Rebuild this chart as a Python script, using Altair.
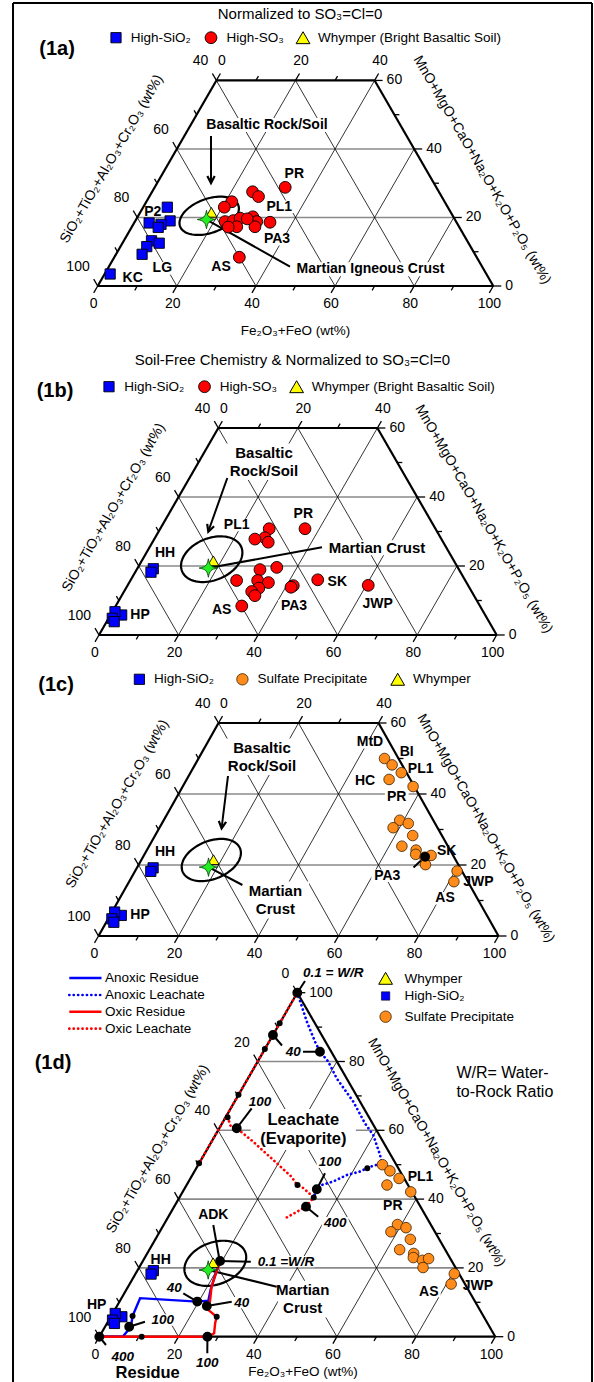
import altair as alt
import numpy as np
import pandas as pd

FONT = "Liberation Sans"
W, H = 594, 1382

# ---------------------------------------------------------------------------
# Compositions (wt%): fe = Fe2O3+FeO, mg = MnO+MgO+CaO+Na2O+K2O+P2O5,
# the SiO2+TiO2+Al2O3+Cr2O3 group is the remainder to 100.
# ---------------------------------------------------------------------------
SIO2_1A_FE = [6.1, 8.8, 3.8, 7.0, 6.75, 7.0, 9.3, 6.65, 6.6, 1.4]
SIO2_1A_MG = [23.0, 19.0, 18.4, 18.0, 17.1, 13.2, 12.5, 11.5, 9.25, 3.5]

SO3_1A_FE = [33.0, 25.4, 27.6, 21.6, 20.5, 22.8, 24.75, 26.1, 26.5, 24.4, 29.1, 30.8, 31.1, 34.25, 28.0, 31.6]
SO3_1A_MG = [28.8, 27.5, 26.1, 24.6, 23.0, 18.8, 19.1, 19.8, 17.3, 17.2, 20.2, 18.8, 17.3, 18.6, 19.6, 8.4]

SIO2_SF_FE = [4.05, 3.97, 2.8, 0.65, 0.92, 1.9]
SIO2_SF_MG = [19.2, 18.2, 5.8, 6.75, 4.84, 3.86]

SO3_1B_FE = [36.4, 27.4, 27.6, 25.3, 29.1, 34.9, 31.0, 26.7, 32.0, 35.0, 33.4, 32.1, 33.5, 31.7, 41.7, 41.35, 47.0, 60.5]
SO3_1B_MG = [30.8, 30.8, 28.2, 27.8, 26.9, 19.6, 18.95, 15.8, 15.8, 15.2, 13.6, 12.6, 11.4, 8.4, 14.3, 13.85, 16.0, 14.4]

SULFATE_FE = [46.5, 49.3, 52.7, 50.6, 57.6, 59.0, 58.4, 61.6, 64.4, 63.2, 67.3, 67.8, 70.5, 71.8, 71.7, 80.5, 81.2]
SULFATE_MG = [50.0, 48.2, 46.0, 44.1, 42.1, 32.6, 30.5, 31.7, 28.3, 25.3, 24.2, 23.0, 22.2, 22.7, 20.1, 18.3, 15.3]

WHYMPER = (18.0, 21.5)
MARTIAN_CRUST = (17.8, 19.4)
SK_MARK = (70.5, 22.3)

# Water-rock reaction model paths (panel 1d)
ANOXIC_RESIDUE_FE = [19.5, 20.3, 21.3, 22.3, 19.65, 4.7, 5.4, 6.55, 5.9, 0.0]
ANOXIC_RESIDUE_MG = [22.0, 17.9, 13.6, 10.5, 10.2, 11.2, 6.0, 2.9, 0.0, 0.0]
OXIC_RESIDUE_FE = [19.5, 21.1, 22.85, 22.7, 23.6, 26.75, 27.3, 28.5, 27.3, 10.7, 0.0]
OXIC_RESIDUE_MG = [22.0, 14.5, 10.2, 8.9, 7.8, 5.8, 3.9, 1.0, 0.0, 0.0, 0.0]
ANOXIC_LEACHATE_FE = [0.0, 6.6, 11.6, 14.3, 17.8, 22.4, 30.0, 36.1, 39.9, 44.5, 46.1, 43.7, 41.8, 39.0, 36.5, 34.1, 33.5, 34.0]
ANOXIC_LEACHATE_MG = [100.0, 91.6, 85.75, 82.85, 80.0, 75.1, 68.3, 62.0, 58.6, 52.8, 50.4, 49.4, 48.0, 47.0, 45.1, 44.1, 42.85, 39.5]
OXIC_LEACHATE_SIDE_FE = [0.0, 0.0]
OXIC_LEACHATE_SIDE_MG = [100.0, 50.0]
OXIC_LEACHATE_FE = [0.5, 2.7, 4.4, 10.5, 18.2, 25.3, 27.7, 30.1, 33.9, 33.3, 29.4]
OXIC_LEACHATE_MG = [63.8, 61.05, 60.6, 56.7, 51.4, 46.5, 44.3, 43.1, 40.5, 37.8, 34.1]

# labelled water/rock ratios (large dots) and intermediate steps (small dots)
WR_FE = [0.0, 0.0, 14.3, 4.4, 33.5, 33.3, 19.5, 19.65, 22.7, 6.1, 27.3, 0.0]
WR_MG = [100.0, 87.7, 82.85, 60.6, 42.85, 37.8, 22.0, 10.2, 8.9, 2.9, 0.0, 0.0]
STEP_FE = [0.0, 0.0, 0.0, 0.5, 0.0, 43.2, 28.0, 33.9, 26.75, 10.7, 5.4]
STEP_MG = [91.1, 83.6, 70.3, 63.8, 50.4, 48.95, 44.1, 40.5, 5.8, 0.0, 6.0]

# ---------------------------------------------------------------------------
# Panel layout: bottom-left vertex (px), base length (px), px per wt% vertically,
# and the upper limit of the mg component shown.
# ---------------------------------------------------------------------------
PANELS = {
    "a": dict(x0=97.7, y0=286.0, base=395.6, vy=3.426, top=60),
    "b": dict(x0=99.0, y0=635.0, base=397.7, vy=3.45, top=60),
    "c": dict(x0=98.5, y0=936.0, base=400.0, vy=3.55, top=60),
    "d": dict(x0=99.3, y0=1336.7, base=396.0, vy=3.44, top=100),
}


def tern(p, fe, mg):
    g = PANELS[p]
    fe = np.asarray(fe, dtype=float)
    mg = np.asarray(mg, dtype=float)
    return g["x0"] + g["base"] * (fe + mg / 2.0) / 100.0, g["y0"] - g["vy"] * mg


XS = alt.Scale(domain=[0, W], nice=False, zero=False)
YS = alt.Scale(domain=[0, H], nice=False, zero=False, reverse=True)


def X(f="x"):
    return alt.X(f"{f}:Q", scale=XS, axis=None)


def Y(f="y"):
    return alt.Y(f"{f}:Q", scale=YS, axis=None)


# ---------------------------------------------------------------- segments
segs = []


def add_seg(style, x1, y1, x2, y2):
    segs.append(dict(style=style, x=float(x1), y=float(y1), x2=float(x2), y2=float(y2)))


def tseg(style, p, a, b):
    x1, y1 = tern(p, *a)
    x2, y2 = tern(p, *b)
    add_seg(style, x1, y1, x2, y2)


texts = []


def T(x, y, s, size=14, bold=False, italic=False, align="center", angle=0, bg=0.0):
    texts.append(dict(x=float(x), y=float(y), text=s, size=size, bold=bold,
                      italic=italic, align=align, angle=angle, bg=bg))


for p, g in PANELS.items():
    top = g["top"]
    for m in range(20, top, 20):
        tseg("hgrid", p, (0, m), (100 - m, m))
    for v in range(20, 100, 20):
        tseg("dgrid", p, (v, 0), (v, min(100 - v, top)))
        if 100 - v <= top:
            tseg("dgrid", p, (100 - v, 0), (0, 100 - v))
        else:
            tseg("dgrid", p, (100 - v, 0), (100 - v - top, top))
    if top < 100:
        corners = [(0, 0), (100, 0), (100 - top, top), (0, top)]
    else:
        corners = [(0, 0), (100, 0), (0, 100)]
    for a, b in zip(corners, corners[1:] + corners[:1]):
        tseg("edge", p, a, b)

    def tick(v, x, y, dx, dy):
        L = 8 if v % 20 == 0 else 5
        add_seg("tick", x, y, x + L * dx, y + L * dy)

    for v in range(0, 101, 10):
        x, y = tern(p, v, 0)
        tick(v, x, y, -0.5, 0.866)
    for v in range(0, top + 1, 10):
        x, y = tern(p, 0, v)
        tick(v, x, y, -0.5, -0.866)
        x, y = tern(p, 100 - v, v)
        tick(v, x, y, 1, 0)
    if top < 100:
        for v in range(0, 100 - top + 1, 10):
            x, y = tern(p, v, top)
            tick(v, x, y, 0.5, -0.866)

    # tick labels
    for v in range(0, 101, 20):
        x, y = tern(p, v, 0)
        T(x - 4, y + 18, str(v))
    for v in range(0, top + 1, 20):
        x, y = tern(p, 0, v)
        T(x - 8, y - 19, str(100 - v), align="right")
        x, y = tern(p, 100 - v, v)
        T(x + 12, y, str(v), align="left")
    if top < 100:
        for v in range(0, 100 - top + 1, 20):
            x, y = tern(p, v, top)
            T(x + 5.5, y - 19.5, str(v))

# figure frame
add_seg("frame", 13, 3, 592, 3)
add_seg("frame", 13, 3, 13, H)
add_seg("frame", 592, 3, 592, H)

# arrows and leader lines
add_seg("lead", 211, 136, 211, 181)
add_seg("lead", 227.3, 478, 208.8, 530)
add_seg("lead", 228, 776, 221.8, 826.5)


def lead_from(p, pt, x2, y2):
    x1, y1 = tern(p, *pt)
    add_seg("lead", x1, y1, x2, y2)


lead_from("a", MARTIAN_CRUST, 290, 266.7)
lead_from("b", MARTIAN_CRUST, 322, 547.3)
lead_from("c", MARTIAN_CRUST, 242.4, 885)
lead_from("c", SK_MARK, 413.5, 867.5)
lead_from("d", MARTIAN_CRUST, 276.7, 1286.7)
for pt, end in [((0.0, 100.0), (305, 981)), ((0.0, 87.7), (282, 1045.5)),
                ((14.3, 82.85), (303, 1051.7)), ((4.4, 60.6), (251.7, 1108.3)),
                ((33.5, 42.85), (325, 1173.3)), ((33.3, 37.8), (318.2, 1216.7)),
                ((19.5, 22.0), (250.8, 1261.7)), ((19.65, 10.2), (183.3, 1293.3)),
                ((22.7, 8.9), (231.7, 1301.7)), ((6.1, 2.9), (145, 1321.7)),
                ((27.3, 0.0), (207.3, 1353.3)), ((0.0, 0.0), (106, 1345))]:
    lead_from("d", pt, *end)
add_seg("lead", 213.3, 1225, 219, 1257)

seg_df = pd.DataFrame(segs)
STYLES = {
    "hgrid": dict(color="#8a8a8a", strokeWidth=1.6),
    "dgrid": dict(color="#000000", strokeWidth=0.8),
    "edge": dict(color="#000000", strokeWidth=2.2),
    "tick": dict(color="#000000", strokeWidth=1.3),
    "lead": dict(color="#000000", strokeWidth=2.0),
    "frame": dict(color="#000000", strokeWidth=2.0),
}


def rule_layer(style):
    d = seg_df[seg_df["style"] == style]
    return alt.Chart(d).mark_rule(**STYLES[style]).encode(
        x=X(), y=Y(), x2="x2:Q", y2="y2:Q")


# ---------------------------------------------------------------- text
SUB_L = "SiO₂+TiO₂+Al₂O₃+Cr₂O₃ (wt%)"
SUB_R = "MnO+MgO+CaO+Na₂O+K₂O+P₂O₅ (wt%)"
SUB_B = "Fe₂O₃+FeO (wt%)"

# panel 1a
T(300, 13.5, "Normalized to SO₃=Cl=0", 15)
T(57, 49.3, "(1a)", 20, bold=True)
T(130.7, 37.7, "High-SiO₂", 13.5, align="left")
T(226.5, 37.7, "High-SO₃", 13.5, align="left")
T(318, 37.7, "Whymper (Bright Basaltic Soil)", 13.5, align="left")
T(111.8, 159, SUB_L, 14, angle=300)
T(482, 170, SUB_R, 14, angle=60)
T(295.5, 330.7, SUB_B, 13.5)
for x, y, s in [(294.3, 174, "PR"), (279.3, 206.7, "PL1"), (277, 239.3, "PA3"),
                (221, 266.7, "AS"), (162.3, 268.3, "LG"), (132.7, 277.7, "KC")]:
    T(x, y, s, 14, bold=True, bg=0.45)
T(152.7, 211.7, "P2", 14, bold=True)
T(267, 125, "Basaltic Rock/Soil", 14, bold=True, bg=0.5)
T(370.5, 269.3, "Martian Igneous Crust", 14, bold=True, bg=0.5)

# panel 1b
T(292.4, 360, "Soil-Free Chemistry & Normalized to SO₃=Cl=0", 15)
T(55, 390.7, "(1b)", 20, bold=True)
T(124.2, 386.7, "High-SiO₂", 13.5, align="left")
T(219.7, 386.7, "High-SO₃", 13.5, align="left")
T(311.7, 386.7, "Whymper (Bright Basaltic Soil)", 13.5, align="left")
T(113.7, 507.5, SUB_L, 14, angle=300)
T(483.8, 519, SUB_R, 14, angle=60)
T(264, 452.7, "Basaltic", 15, bold=True, bg=0.62)
T(264, 470.7, "Rock/Soil", 15, bold=True, bg=0.62)
T(377, 547.8, "Martian Crust", 15, bold=True, bg=0.5)
for x, y, s in [(236.7, 525, "PL1"), (303.3, 514, "PR"), (165, 552.7, "HH"),
                (140, 614.5, "HP"), (221.7, 610, "AS"), (294, 606, "PA3"),
                (337.3, 582, "SK"), (377.7, 604, "JWP")]:
    T(x, y, s, 14, bold=True, bg=0.45)

# panel 1c
T(56, 685, "(1c)", 20, bold=True)
T(154, 679.3, "High-SiO₂", 13.5, align="left")
T(257.6, 679.3, "Sulfate Precipitate", 13.5, align="left")
T(412.9, 679.3, "Whymper", 13.5, align="left")
T(117.4, 804, SUB_L, 14, angle=300)
T(485.8, 828.3, SUB_R, 14, angle=60)
T(262, 747.7, "Basaltic", 15, bold=True, bg=0.62)
T(262, 765.7, "Rock/Soil", 15, bold=True, bg=0.62)
T(275.4, 890.7, "Martian", 15, bold=True, bg=0.62)
T(275.4, 909.3, "Crust", 15, bold=True, bg=0.62)
for x, y, s in [(165, 852.3, "HH"), (140, 915, "HP"), (370, 742.3, "MtD"),
                (406.7, 752.3, "BI"), (420.7, 769.3, "PL1"), (365, 780.7, "HC"),
                (396.7, 797.3, "PR"), (446.7, 850.7, "SK"), (387.3, 875.7, "PA3"),
                (478.3, 882.3, "JWP"), (445, 898.3, "AS")]:
    T(x, y, s, 14, bold=True, bg=0.45)

# panel 1d
T(53, 1063.3, "(1d)", 20, bold=True)
for y, s in [(978, "Anoxic Residue"), (995, "Anoxic Leachate"),
             (1011.7, "Oxic Residue"), (1028.7, "Oxic Leachate")]:
    T(105, y, s, 13.5, align="left")
for y, s in [(979.3, "Whymper"), (996, "High-SiO₂"), (1017.3, "Sulfate Precipitate")]:
    T(404.5, y, s, 13.5, align="left")
T(456.4, 1073.3, "W/R= Water-", 16, align="left")
T(456.4, 1091.7, "to-Rock Ratio", 16, align="left")
T(158, 1149, SUB_L, 14, angle=300)
T(436.5, 1152.5, SUB_R, 14, angle=60)
T(303, 1371.7, SUB_B, 13.5)
T(303.3, 1120, "Leachate", 16.5, bold=True, bg=0.66)
T(303.3, 1139, "(Evaporite)", 16.5, bold=True, bg=0.66)
T(213.3, 1215, "ADK", 14, bold=True, bg=0.45)
T(302.7, 1290, "Martian", 15, bold=True, bg=0.62)
T(302.7, 1308.3, "Crust", 15, bold=True, bg=0.62)
T(147.7, 1372.5, "Residue", 16.5, bold=True)
for x, y, s in [(420.5, 1176.7, "PL1"), (392.8, 1205.5, "PR"), (428.8, 1291.7, "AS"),
                (478, 1286, "JWP"), (160.7, 1260, "HH"), (96.7, 1305, "HP")]:
    T(x, y, s, 14, bold=True, bg=0.4)
for x, y, s in [(333.3, 972.7, "0.1 = W/R"), (293.3, 1051.7, "40"), (260, 1101.7, "100"),
                (330, 1162.3, "100"), (335.2, 1222.7, "400"), (286, 1261.7, "0.1 =W/R"),
                (174.3, 1288.3, "40"), (241.7, 1302.7, "40"), (162.7, 1320, "100"),
                (207.3, 1362.5, "100"), (122.7, 1356.7, "400")]:
    T(x, y, s, 13.5, bold=True, italic=True, bg=0.42)

text_df = pd.DataFrame(texts)


def est_width(s, size, bold):
    w = 0.0
    for ch in s:
        if ch.isupper():
            w += 0.70
        elif ch.isdigit():
            w += 0.556
        elif ch.islower():
            w += 0.56
        elif ch == " ":
            w += 0.28
        else:
            w += 0.33
    return w * size * (1.06 if bold else 1.0)


bg_rows = []
for t in texts:
    if t["bg"] > 0:
        w = est_width(t["text"], t["size"], t["bold"]) + 3
        bg_rows.append(dict(x=t["x"] - w / 2, x2=t["x"] + w / 2,
                            y=t["y"] - t["bg"] * t["size"], y2=t["y"] + t["bg"] * t["size"]))
bg_df = pd.DataFrame(bg_rows)

# ---------------------------------------------------------------- ellipses
ELLIPSES = [(209.2, 215.8, 31, 17, 20), (211.7, 559.2, 32, 21, 22),
            (211.3, 860.0, 31, 19, 22), (215.3, 1263.3, 32, 21, 20)]
ell_rows = []
tt = np.linspace(0, 2 * np.pi, 91)
for k, (cx, cy, a, b, ang) in enumerate(ELLIPSES):
    th = np.radians(ang)
    ex, ey = a * np.cos(tt), b * np.sin(tt)
    for i, (u, v) in enumerate(zip(ex, ey)):
        ell_rows.append(dict(e=k, i=i, x=cx + u * np.cos(th) + v * np.sin(th),
                             y=cy - u * np.sin(th) + v * np.cos(th)))
ell_df = pd.DataFrame(ell_rows)

# ---------------------------------------------------------------- model curves
curve_rows = []


def add_curve(name, fe, mg, color, dash):
    xs, ys = tern("d", fe, mg)
    for i, (x, y) in enumerate(zip(xs, ys)):
        curve_rows.append(dict(curve=name, i=i, x=x, y=y, color=color, dash=dash))


add_curve("anoxic_residue", ANOXIC_RESIDUE_FE, ANOXIC_RESIDUE_MG, "#0000ff", "solid")
add_curve("oxic_residue", OXIC_RESIDUE_FE, OXIC_RESIDUE_MG, "#ff0000", "solid")
add_curve("anoxic_leachate", ANOXIC_LEACHATE_FE, ANOXIC_LEACHATE_MG, "#0000ff", "dot")
add_curve("oxic_leachate_side", OXIC_LEACHATE_SIDE_FE, OXIC_LEACHATE_SIDE_MG, "#ff0000", "dot")
add_curve("oxic_leachate", OXIC_LEACHATE_FE, OXIC_LEACHATE_MG, "#ff0000", "dot")
curve_df = pd.DataFrame(curve_rows)

legend_lines = pd.DataFrame([
    dict(x=69.3, x2=101.5, y=978.0, y2=978.0, color="#0000ff", dash="solid"),
    dict(x=69.3, x2=101.5, y=995.0, y2=995.0, color="#0000ff", dash="dot"),
    dict(x=69.3, x2=101.5, y=1011.7, y2=1011.7, color="#ff0000", dash="solid"),
    dict(x=69.3, x2=101.5, y=1028.7, y2=1028.7, color="#ff0000", dash="dot"),
])

# ---------------------------------------------------------------- markers


def pts(p, fe, mg):
    xs, ys = tern(p, fe, mg)
    return pd.DataFrame({"x": np.atleast_1d(xs), "y": np.atleast_1d(ys)})


def legend_pts(coords):
    return pd.DataFrame(coords, columns=["x", "y"])


blue_df = pd.concat([pts("a", SIO2_1A_FE, SIO2_1A_MG)] +
                    [pts(p, SIO2_SF_FE, SIO2_SF_MG) for p in "bcd"] +
                    [legend_pts([(116, 37.7), (109, 386.7), (139.4, 679.3)])])
blue_leg_d = legend_pts([(385.6, 996)])
red_df = pd.concat([pts("a", SO3_1A_FE, SO3_1A_MG), pts("b", SO3_1B_FE, SO3_1B_MG),
                    legend_pts([(211, 37.7), (204.5, 386.7)])])
orange_df = pd.concat([pts("c", SULFATE_FE, SULFATE_MG), pts("d", SULFATE_FE, SULFATE_MG)])
orange_leg = legend_pts([(242.4, 679.3), (385.6, 1016.7)])
tri_df = pd.concat([pts(p, [WHYMPER[0]], [WHYMPER[1]]) for p in "abcd"])
tri_leg = legend_pts([(303, 37.7), (296.6, 386.7), (397.7, 679.3), (385.6, 978.3)])
star_df = pd.concat([pts(p, [MARTIAN_CRUST[0]], [MARTIAN_CRUST[1]]) for p in "abcd"])
big_dot_df = pd.concat([pts("d", WR_FE, WR_MG), pts("c", [SK_MARK[0]], [SK_MARK[1]])])
small_dot_df = pts("d", STEP_FE, STEP_MG)
arrow_df = pd.DataFrame([dict(x=211, y=183, angle=0.0),
                         dict(x=208.3, y=531.7, angle=19.5),
                         dict(x=221.6, y=828.3, angle=7.0)])

STAR = ("M0,-1 C0.12,-0.3 0.3,-0.12 1,0 C0.3,0.12 0.12,0.3 0,1 "
        "C-0.12,0.3 -0.3,0.12 -1,0 C-0.3,-0.12 -0.12,-0.3 0,-1 Z")
ARROW = "M-0.6,-1.15 L0,0 L0.6,-1.15"


def point_layer(df, **kw):
    return alt.Chart(df).mark_point(opacity=1, **kw).encode(x=X(), y=Y())


# ---------------------------------------------------------------- assemble
layers = [rule_layer("hgrid"), rule_layer("dgrid")]
layers.append(alt.Chart(bg_df).mark_rect(fill="white", stroke=None).encode(
    x=X(), x2="x2:Q", y=Y(), y2="y2:Q"))
layers += [rule_layer("edge"), rule_layer("tick"), rule_layer("frame"), rule_layer("lead")]
layers.append(alt.Chart(ell_df).mark_line(color="black", strokeWidth=2.2).encode(
    x=X(), y=Y(), detail="e:N", order="i:Q"))

solid_c = curve_df[curve_df["dash"] == "solid"]
dot_c = curve_df[curve_df["dash"] == "dot"]
layers.append(alt.Chart(solid_c).mark_line(strokeWidth=2.4).encode(
    x=X(), y=Y(), detail="curve:N", order="i:Q", color=alt.Color("color:N", scale=None)))
layers.append(alt.Chart(dot_c).mark_line(strokeWidth=2.7, strokeDash=[0.1, 4.3], strokeCap="round").encode(
    x=X(), y=Y(), detail="curve:N", order="i:Q", color=alt.Color("color:N", scale=None)))
ll_s = legend_lines[legend_lines["dash"] == "solid"]
ll_d = legend_lines[legend_lines["dash"] == "dot"]
layers.append(alt.Chart(ll_s).mark_rule(strokeWidth=2.4).encode(
    x=X(), x2="x2:Q", y=Y(), y2="y2:Q", color=alt.Color("color:N", scale=None)))
layers.append(alt.Chart(ll_d).mark_rule(strokeWidth=2.7, strokeDash=[0.1, 4.3], strokeCap="round").encode(
    x=X(), x2="x2:Q", y=Y(), y2="y2:Q", color=alt.Color("color:N", scale=None)))

layers += [
    point_layer(blue_df, shape="square", filled=True, fill="#0000ff", stroke="#000000", strokeWidth=0.9, size=105),
    point_layer(blue_leg_d, shape="square", filled=True, fill="#0000ff", stroke="#000000", strokeWidth=0.6, size=70),
    point_layer(red_df, shape="circle", filled=True, fill="#ff0000", stroke="#000000", strokeWidth=0.9, size=140),
    point_layer(orange_df, shape="circle", filled=True, fill="#ff8c1a", stroke="#3a2000", strokeWidth=0.8, size=112),
    point_layer(orange_leg, shape="circle", filled=True, fill="#ff8c1a", stroke="#3a2000", strokeWidth=0.8, size=130),
    point_layer(tri_df, shape="triangle-up", filled=True, fill="#ffff00", stroke="#000000", strokeWidth=0.9, size=125),
    point_layer(tri_leg, shape="triangle-up", filled=True, fill="#ffff00", stroke="#000000", strokeWidth=1.0, size=190),
    point_layer(star_df, shape=STAR, filled=True, fill="#22ee22", stroke="#0a4a0a", strokeWidth=0.9, size=340),
    point_layer(big_dot_df, shape="circle", filled=True, fill="#000000", stroke="#000000", size=62),
    point_layer(small_dot_df, shape="circle", filled=True, fill="#000000", stroke="#000000", size=16),
]
layers.append(alt.Chart(arrow_df).mark_point(shape=ARROW, filled=False, stroke="black", strokeWidth=2.2,
                                             size=150, opacity=1).encode(
    x=X(), y=Y(), angle=alt.Angle("angle:Q", scale=None)))

for (bold, italic, align), grp in text_df.groupby(["bold", "italic", "align"]):
    layers.append(alt.Chart(grp.drop(columns=["bg"])).mark_text(
        font=FONT, fontWeight="bold" if bold else "normal",
        fontStyle="italic" if italic else "normal", align=align, baseline="middle",
        color="black").encode(
        x=X(), y=Y(), text="text:N", size=alt.Size("size:Q", scale=None),
        angle=alt.Angle("angle:Q", scale=None)))

chart = alt.layer(*layers).properties(
    width=W, height=H, padding=0, autosize=alt.AutoSizeParams(type="none"),
    background="white").configure_view(stroke=None)

chart.save("out.html", embed_options={"renderer": "svg", "actions": False})
